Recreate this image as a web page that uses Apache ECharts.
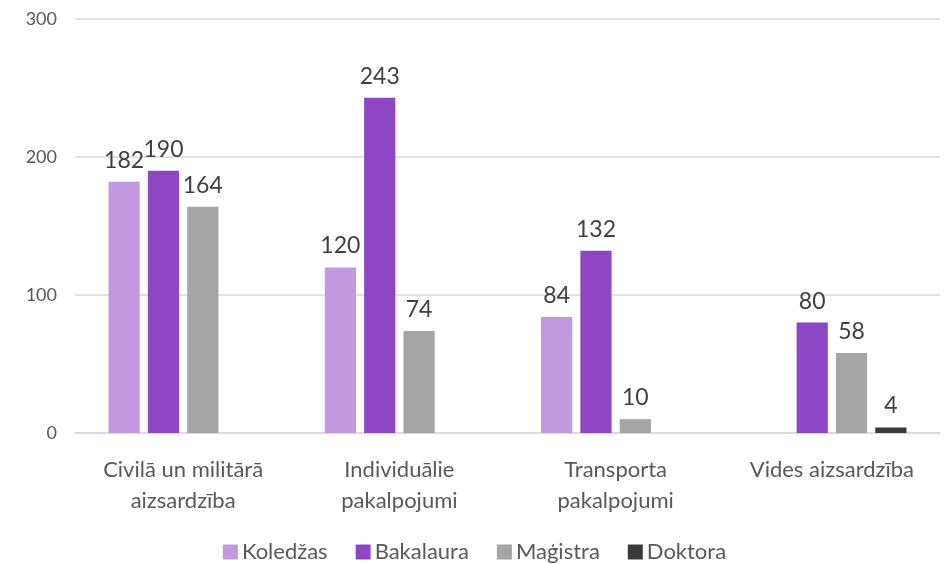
<!DOCTYPE html>
<html>
<head>
<meta charset="utf-8">
<script src="https://cdn.jsdelivr.net/npm/echarts@6/dist/echarts.min.js"></script>
<style>html,body{margin:0;padding:0;background:#fff}#c{width:949px;height:564px}</style>
</head>
<body>
<div id="c"></div>
<script>
const categories = ['Civilā un militārā\naizsardzība', 'Individuālie\npakalpojumi', 'Transporta\npakalpojumi', 'Vides aizsardzība'];
const seriesNames = ['Koledžas', 'Bakalaura', 'Maģistra', 'Doktora'];
const koledzas = [182, 120, 84, null];
const bakalaura = [190, 243, 132, 80];
const magistra = [164, 74, 10, 58];
const doktora = [null, null, null, 4];
const colors = ['#C299DF', '#8E47C4', '#A5A5A5', '#3A3A3A'];
const FONT = 'Lato';

const chart = echarts.init(document.getElementById('c'), null, {renderer: 'canvas'});
const data = [koledzas, bakalaura, magistra, doktora];
chart.setOption({
  animation: false,
  textStyle: {fontFamily: FONT},
  grid: {left: 75, right: 9, top: 19, bottom: 131, containLabel: false},
  legend: {
    top: 536, left: 'center',
    itemWidth: 15, itemHeight: 15, itemGap: 28,
    icon: 'rect',
    textStyle: {fontFamily: FONT, fontSize: 22, color: '#595959', padding: [0,0,0,-1]},
    data: seriesNames
  },
  xAxis: {
    type: 'category',
    data: categories,
    axisLine: {lineStyle: {color: '#D9D9D9', width: 1.5}},
    axisTick: {show: false},
    axisLabel: {fontFamily: FONT, fontSize: 22, color: '#595959', lineHeight: 31, margin: 21, interval: 0}
  },
  yAxis: {
    type: 'value', min: 0, max: 300, interval: 100,
    axisLine: {show: false}, axisTick: {show: false},
    splitLine: {lineStyle: {color: '#D9D9D9', width: 1.5}},
    axisLabel: {fontFamily: FONT, fontSize: 18, color: '#595959', margin: 18}
  },
  series: seriesNames.map((n, i) => ({
    name: n, type: 'bar', data: data[i],
    barGap: '26%', barCategoryGap: '31%',
    itemStyle: {color: colors[i]},
    label: {show: true, position: 'top', distance: 10, fontFamily: FONT, fontSize: 23, color: '#404040'}
  }))
});
</script>
</body>
</html>
